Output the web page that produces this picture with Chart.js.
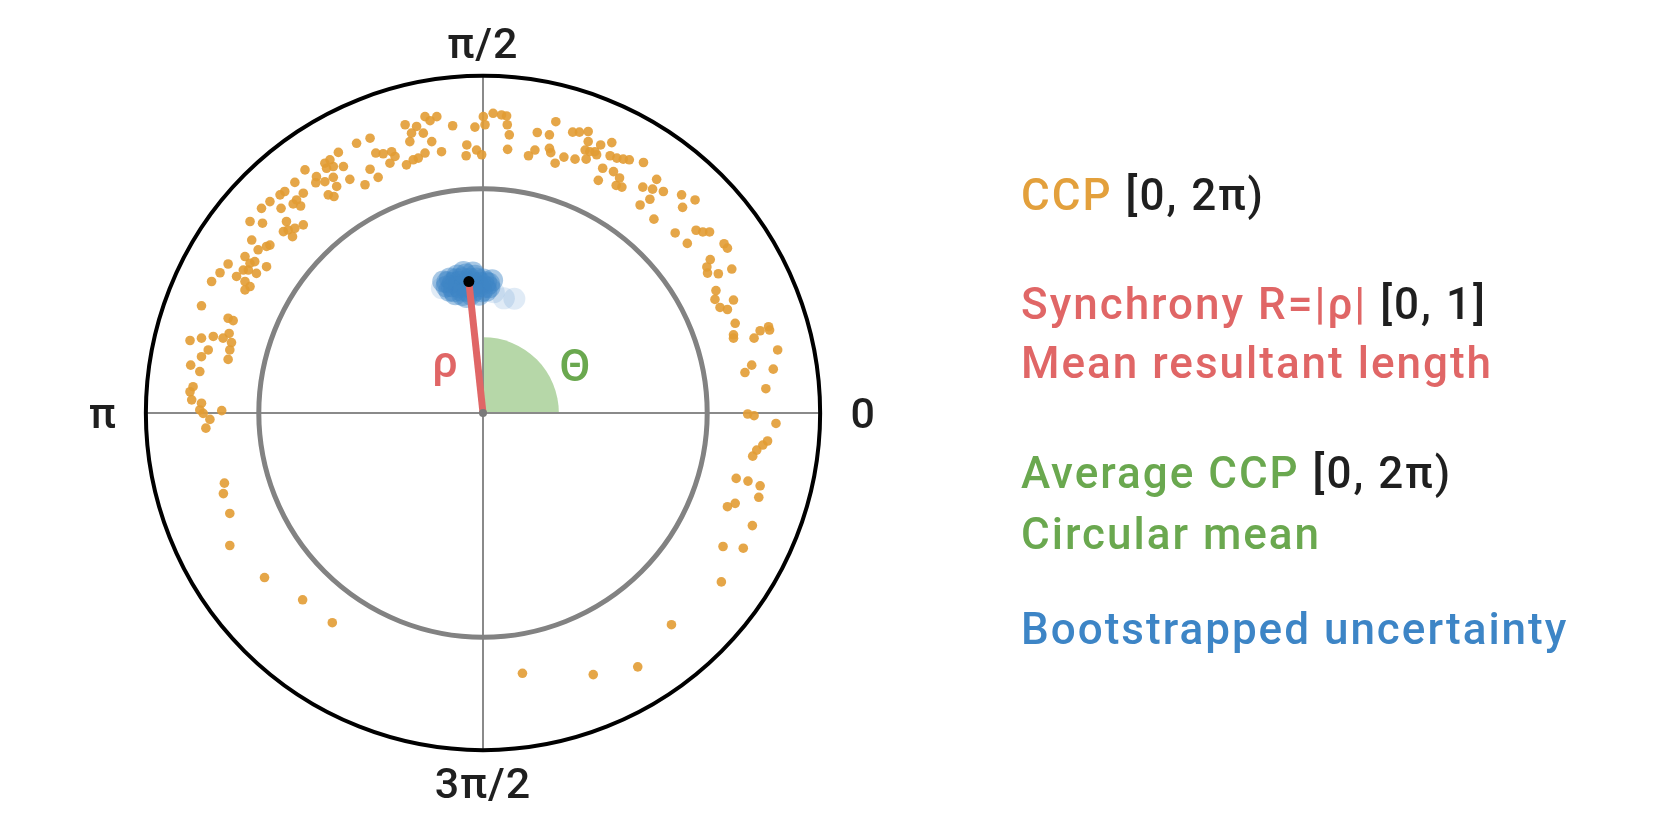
<!DOCTYPE html>
<html lang="en">
<head>
<meta charset="UTF-8">
<title>Circular phase (CCP) plot</title>
<script src="https://cdn.jsdelivr.net/npm/chart.js"></script>
<style>
  html, body { margin: 0; padding: 0; background: #fff; }
  #polar { display: block; }
</style>
</head>
<body>
<canvas id="polar" width="1654" height="827"></canvas>
<script>
// CCP samples as (cos, sin) * radius, outer circle = 1
const ccpPoints = [
  [-0.172,0.879],[-0.137,0.879],[-0.157,0.867],[-0.231,0.855],[-0.197,0.850],[-0.212,0.830],[-0.177,0.830],
  [-0.217,0.805],[-0.152,0.805],[-0.123,0.775],[-0.090,0.852],[-0.024,0.848],[0.001,0.879],[0.006,0.855],
  [-0.048,0.795],[-0.019,0.780],[-0.004,0.766],[-0.050,0.763],[-0.335,0.815],[-0.375,0.800],[-0.318,0.771],
  [-0.296,0.769],[-0.271,0.775],[-0.261,0.761],[-0.276,0.741],[-0.227,0.736],[-0.207,0.751],[-0.192,0.756],
  [-0.172,0.771],[-0.429,0.773],[-0.454,0.751],[-0.469,0.741],[-0.464,0.726],[-0.444,0.731],[-0.414,0.731],
  [-0.335,0.723],[-0.311,0.699],[-0.350,0.677],[-0.395,0.693],[-0.528,0.721],[-0.494,0.701],[-0.496,0.683],
  [-0.469,0.686],[-0.444,0.699],[-0.434,0.672],[-0.459,0.647],[-0.442,0.642],[-0.558,0.684],[-0.588,0.657],
  [-0.602,0.647],[-0.632,0.627],[-0.657,0.607],[-0.599,0.607],[-0.563,0.620],[-0.541,0.614],[-0.553,0.632],
  [-0.533,0.652],[-0.691,0.568],[-0.654,0.563],[-0.592,0.538],[-0.578,0.543],[-0.558,0.548],[-0.565,0.523],
  [-0.533,0.558],[-0.583,0.568],[-0.686,0.513],[-0.667,0.484],[-0.642,0.494],[-0.632,0.498],[-0.706,0.464],
  [-0.691,0.444],[-0.677,0.449],[-0.711,0.424],[-0.696,0.424],[-0.672,0.414],[-0.642,0.434],[-0.756,0.442],
  [-0.780,0.416],[-0.805,0.390],[-0.731,0.405],[-0.706,0.390],[-0.691,0.375],[-0.706,0.365],[-0.835,0.318],
  [-0.756,0.281],[-0.741,0.274],[-0.800,0.227],[-0.771,0.222],[-0.753,0.236],[-0.746,0.209],[-0.869,0.215],
  [-0.835,0.222],[-0.815,0.187],[-0.835,0.167],[-0.751,0.187],[-0.756,0.159],[-0.867,0.142],[-0.840,0.123],
  [-0.860,0.078],[-0.869,0.063],[-0.864,0.039],[-0.835,0.029],[-0.840,0.009],[-0.830,-0.001],[-0.775,0.007],
  [-0.810,-0.019],[-0.822,-0.045],[-0.767,-0.208],[-0.770,-0.239],[-0.751,-0.298],[-0.751,-0.393],
  [-0.648,-0.488],[-0.535,-0.554],[-0.447,-0.622],
  [0.785,-0.003],[0.804,-0.008],[0.869,-0.031],[0.844,-0.083],[0.830,-0.095],[0.812,-0.110],[0.800,-0.128],
  [0.751,-0.194],[0.786,-0.202],[0.822,-0.216],[0.818,-0.250],[0.748,-0.268],[0.725,-0.278],[0.799,-0.334],
  [0.712,-0.396],[0.772,-0.401],[0.707,-0.501],[0.559,-0.628],[0.459,-0.753],[0.327,-0.776],[0.117,-0.772],
  [0.030,0.889],[0.055,0.884],[0.070,0.881],[0.072,0.855],[0.078,0.825],[0.073,0.782],[0.216,0.864],
  [0.161,0.832],[0.197,0.825],[0.197,0.785],[0.201,0.772],[0.154,0.780],[0.135,0.763],[0.214,0.741],
  [0.240,0.759],[0.266,0.833],[0.286,0.833],[0.312,0.835],[0.312,0.805],[0.303,0.780],[0.317,0.775],
  [0.332,0.775],[0.349,0.795],[0.382,0.802],[0.273,0.753],[0.306,0.753],[0.337,0.766],[0.377,0.763],
  [0.397,0.756],[0.416,0.753],[0.434,0.751],[0.476,0.743],[0.355,0.726],[0.342,0.690],[0.387,0.716],
  [0.405,0.697],[0.395,0.675],[0.412,0.670],[0.515,0.693],[0.474,0.670],[0.503,0.664],[0.535,0.657],
  [0.495,0.634],[0.466,0.617],[0.589,0.647],[0.629,0.632],[0.592,0.610],[0.507,0.575],[0.570,0.534],
  [0.606,0.503],[0.632,0.542],[0.652,0.537],[0.672,0.537],[0.715,0.502],[0.725,0.489],[0.674,0.455],
  [0.664,0.433],[0.666,0.415],[0.698,0.413],[0.738,0.427],[0.691,0.363],[0.688,0.337],[0.703,0.313],
  [0.725,0.307],[0.743,0.335],[0.748,0.266],[0.743,0.232],[0.743,0.222],[0.804,0.222],[0.822,0.244],
  [0.847,0.256],[0.850,0.246],[0.874,0.187],[0.797,0.142],[0.777,0.120],[0.861,0.130],[0.839,0.072]
];

// bootstrapped mean vectors
const bootPoints = [
  [-0.076,0.408],[-0.051,0.411],[-0.024,0.407],
  [-0.098,0.399],[-0.079,0.397],[-0.061,0.400],[-0.038,0.398],[-0.019,0.399],[0.001,0.396],
  [-0.106,0.388],[-0.089,0.386],[-0.071,0.389],[-0.049,0.387],[-0.031,0.388],[-0.008,0.386],[0.009,0.388],[0.018,0.384],
  [-0.108,0.375],[-0.093,0.376],[-0.071,0.373],[-0.053,0.375],[-0.033,0.372],[-0.011,0.376],[0.007,0.374],[0.019,0.373],
  [-0.100,0.363],[-0.086,0.361],[-0.064,0.363],[-0.046,0.361],[-0.026,0.363],[-0.004,0.361],[0.010,0.363],
  [-0.082,0.352],[-0.061,0.350],[-0.036,0.352],[-0.012,0.351],[-0.049,0.344],
  [0.062,0.340],[0.093,0.339],[-0.122,0.370],[0.032,0.358],[-0.058,0.418],[-0.030,0.417],[0.027,0.394],[-0.118,0.390]
];

const meanVector = [-0.042, 0.390];   // rho (x, y)
const rings = [1.0, 0.665];           // outer circle, inner circle
const thetaArc = [0, 90];             // degrees
const thetaRadius = 0.225;
const angleLabels = ['0', 'π/2', 'π', '3π/2'];
const angleLabelDeg = [0, 90, 180, 270];

const ORANGE = '#E3A03C';
const RED = '#E06666';
const GREEN = '#6AA84F';
const GREEN_LIGHT = '#B6D7A8';
const BLUE = '#3D85C6';
const DARK = '#1f1f1f';

const legendLines = [
  [['CCP ', ORANGE], ['[0, 2π)', DARK]],
  [['Synchrony R=|ρ| ', RED], ['[0, 1]', DARK]],
  [['Mean resultant length', RED]],
  [['Average CCP ', GREEN], ['[0, 2π)', DARK]],
  [['Circular mean', GREEN]],
  [['Bootstrapped uncertainty', BLUE]]
];

const FONT = 'Roboto, "DejaVu Sans", sans-serif';

const polarFrame = {
  id: 'polarFrame',
  beforeDatasetsDraw(chart) {
    const { ctx, scales: { x, y } } = chart;
    const cx = x.getPixelForValue(0), cy = y.getPixelForValue(0);
    const rPx = v => x.getPixelForValue(v) - cx;
    ctx.save();
    // theta wedge
    ctx.fillStyle = GREEN_LIGHT;
    ctx.beginPath();
    ctx.moveTo(cx, cy);
    ctx.arc(cx, cy, rPx(thetaRadius), -thetaArc[0] * Math.PI / 180, -thetaArc[1] * Math.PI / 180, true);
    ctx.closePath();
    ctx.fill();
    // axis lines
    ctx.strokeStyle = '#8a8a8a';
    ctx.lineWidth = 2;
    ctx.beginPath();
    ctx.moveTo(x.getPixelForValue(-rings[0]), cy);
    ctx.lineTo(x.getPixelForValue(rings[0]), cy);
    ctx.moveTo(cx, y.getPixelForValue(rings[0]));
    ctx.lineTo(cx, y.getPixelForValue(-rings[0]));
    ctx.stroke();
    // inner ring
    ctx.strokeStyle = '#828282';
    ctx.lineWidth = 5;
    ctx.beginPath();
    ctx.arc(cx, cy, rPx(rings[1]), 0, Math.PI * 2);
    ctx.stroke();
    // outer ring
    ctx.strokeStyle = '#000';
    ctx.lineWidth = 4;
    ctx.beginPath();
    ctx.arc(cx, cy, rPx(rings[0]), 0, Math.PI * 2);
    ctx.stroke();

    // angle labels
    const R = rPx(rings[0]);
    ctx.font = '500 43px ' + FONT;
    ctx.fillStyle = DARK;
    ctx.textAlign = 'center';
    ctx.textBaseline = 'alphabetic';
    ctx.letterSpacing = '1px';
    angleLabels.forEach((t, i) => {
      const a = angleLabelDeg[i] * Math.PI / 180;
      const px = cx + Math.cos(a) * (R + 43);
      const py = cy - Math.sin(a) * (R + 33);
      ctx.fillText(t, px, py + 15);
    });
    ctx.restore();
  },
  afterDatasetsDraw(chart) {
    const { ctx, scales: { x, y } } = chart;
    const cx = x.getPixelForValue(0), cy = y.getPixelForValue(0);
    ctx.save();
    // origin dot
    ctx.fillStyle = '#7a7a7a';
    ctx.beginPath();
    ctx.arc(cx, cy, 4, 0, Math.PI * 2);
    ctx.fill();
    // rho / theta symbols
    ctx.font = '500 45px ' + FONT;
    ctx.textAlign = 'center';
    ctx.textBaseline = 'alphabetic';
    ctx.fillStyle = RED;
    ctx.fillText('ρ', cx - 38, cy - 36);
    ctx.fillStyle = GREEN;
    ctx.fillText('Θ', cx + 92, cy - 32);

    // legend text
    ctx.font = '500 44px ' + FONT;
    ctx.textAlign = 'left';
    ctx.letterSpacing = '2px';
    const baselines = [210, 319, 378, 488, 549, 644];
    legendLines.forEach((segs, i) => {
      let tx = 1021;
      segs.forEach(([t, c]) => {
        ctx.fillStyle = c;
        ctx.fillText(t, tx, baselines[i]);
        tx += ctx.measureText(t).width;
      });
    });
    ctx.restore();
  }
};

const toXY = arr => arr.map(p => ({ x: p[0], y: p[1] }));

// stray bootstrap samples far from the mean are drawn fainter
const bootColor = c => {
  const p = c.raw;
  if (!p) return 'rgba(61,133,198,0.45)';
  const dx = (p.x - meanVector[0]) / 0.075, dy = (p.y - meanVector[1]) / 0.045;
  return dx * dx + dy * dy > 1.3 ? 'rgba(61,133,198,0.16)' : 'rgba(61,133,198,0.45)';
};

new Chart(document.getElementById('polar'), {
  type: 'scatter',
  data: {
    datasets: [
      {
        label: 'Mean',
        data: [{ x: meanVector[0], y: meanVector[1] }],
        pointRadius: 5.5,
        backgroundColor: '#000',
        borderWidth: 0,
        order: 0
      },
      {
        label: 'Synchrony',
        data: [{ x: 0, y: 0 }, { x: meanVector[0], y: meanVector[1] }],
        showLine: true,
        borderColor: RED,
        borderWidth: 7,
        pointRadius: 0,
        order: 1
      },
      {
        label: 'CCP',
        data: toXY(ccpPoints),
        pointRadius: 4.8,
        backgroundColor: 'rgba(226,156,52,0.9)',
        borderWidth: 0,
        order: 2
      },
      {
        label: 'Bootstrapped uncertainty',
        data: toXY(bootPoints),
        pointRadius: 11,
        backgroundColor: bootColor,
        borderWidth: 0,
        order: 3
      }
    ]
  },
  options: {
    responsive: false,
    animation: false,
    events: [],
    layout: { padding: { left: 129, right: 817, top: 59, bottom: 60 } },
    scales: {
      x: { type: 'linear', min: -1.05, max: 1.05, display: false },
      y: { type: 'linear', min: -1.05, max: 1.05, display: false }
    },
    plugins: {
      legend: { display: false },
      tooltip: { enabled: false }
    }
  },
  plugins: [polarFrame]
});
</script>
</body>
</html>
